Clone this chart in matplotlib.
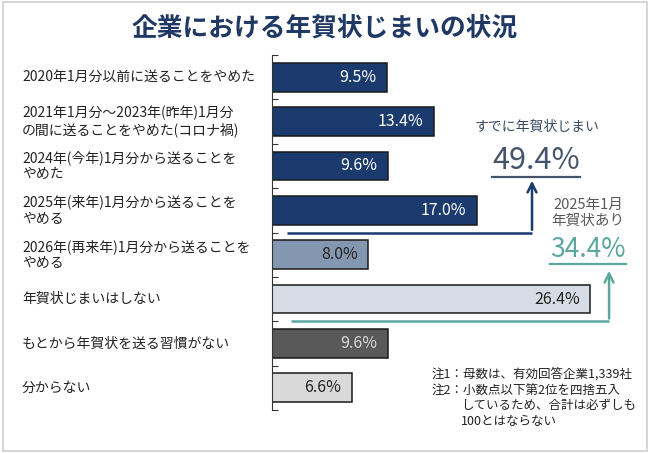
import matplotlib as mpl
mpl.use('Agg')
from matplotlib import pyplot as plt
from matplotlib.patches import Rectangle
from matplotlib.transforms import blended_transform_factory

plt.rcParams['font.family'] = ['Noto Sans CJK JP', 'DejaVu Sans']

# ----- data
categories = [
    "2020年1月分以前に送ることをやめた",
    "2021年1月分～2023年(昨年)1月分\nの間に送ることをやめた(コロナ禍)",
    "2024年(今年)1月分から送ることを\nやめた",
    "2025年(来年)1月分から送ることを\nやめる",
    "2026年(再来年)1月分から送ることを\nやめる",
    "年賀状じまいはしない",
    "もとから年賀状を送る習慣がない",
    "分からない",
]
values = [9.5, 13.4, 9.6, 17.0, 8.0, 26.4, 9.6, 6.6]
bar_colors = ['#1b3a6e', '#1b3a6e', '#1b3a6e', '#1b3a6e',
              '#8497b0', '#d6dce5', '#595959', '#d9d9d9']
text_colors = ['white', 'white', 'white', 'white',
               '#222222', '#222222', '#d9d9d9', '#222222']
already_total = "49.4%"
still_sending = "34.4%"
notes = ["注1：母数は、有効回答企業1,339社",
         "注2：小数点以下第2位を四捨五入",
         "しているため、合計は必ずしも",
         "100とはならない"]

NAVY = '#1b3a6e'
TEAL = '#5ba69e'
SLATE = '#44546a'
PX_PER_PCT = 12.06   # horizontal scale of the reference


def underline(fig, txt, color):
    """Draw a line just below a text object (matplotlib has no underline)."""
    fig.canvas.draw()
    bb = txt.get_window_extent().transformed(fig.transFigure.inverted())
    fig.add_artist(plt.Line2D([bb.x0, bb.x1], [bb.y0 - 0.002, bb.y0 - 0.002],
                              color=color, lw=1.6, transform=fig.transFigure))


fig = plt.figure(figsize=(6.5, 4.53), dpi=100)
fig.add_artist(Rectangle((0.004, 0.005), 0.992, 0.99, transform=fig.transFigure,
                         fill=False, edgecolor='#d0d0d0', lw=1.2))

ax = fig.add_axes([272 / 650, 1 - 410 / 453, (650 - 272) / 650, (410 - 55) / 453])
ax.set_xlim(0, (650 - 272) / PX_PER_PCT)
ax.set_ylim(len(values) - 0.5, -0.5)

ypos = range(len(values))
ax.barh(ypos, values, height=0.65, color=bar_colors, edgecolor='#1a1a1a', lw=1.1)
for y, v, tc in zip(ypos, values, text_colors):
    ax.annotate(f"{v:.1f}%", (v, y), xytext=(-7.5, 0), textcoords='offset points',
                ha='right', va='center', fontsize=11.5, color=tc)

for s in ['top', 'right', 'bottom']:
    ax.spines[s].set_visible(False)
ax.spines['left'].set_color('#333333')
ax.set_xticks([])
ax.set_yticks([i - 0.5 for i in range(len(values) + 1)])
ax.set_yticklabels([])
ax.tick_params(axis='y', direction='in', length=4, color='#333333')

# category labels, x in figure coords, y in data coords
lab_tr = blended_transform_factory(fig.transFigure, ax.transData)
for y, lab in zip(ypos, categories):
    ax.text(22 / 650, y, lab, transform=lab_tr, fontsize=10,
            ha='left', va='center', color='#222222', linespacing=1.2)

# bracket arrows
ax.annotate("", xy=(21.56, 2.27), xytext=(21.56, 3.5),
            arrowprops=dict(arrowstyle='->', color=NAVY, lw=1.8, mutation_scale=16))
ax.plot([1.24, 21.56], [3.5, 3.5], color=NAVY, lw=1.8, solid_capstyle='butt')
ax.annotate("", xy=(27.95, 4.3), xytext=(27.95, 5.5),
            arrowprops=dict(arrowstyle='->', color=TEAL, lw=1.8, mutation_scale=16))
ax.plot([1.57, 27.95], [5.5, 5.5], color=TEAL, lw=1.8, solid_capstyle='butt')

# summary texts
ax.text(22.0, 1.12, "すでに年賀状じまい", ha='center', va='center', fontsize=10,
        color='#3b4a63')
t1 = ax.text(21.9, 1.87, already_total, ha='center', va='center', fontsize=22,
             color=SLATE)
ax.text(26.2, 3.05, "2025年1月\n年賀状あり", ha='center', va='center', fontsize=10.5,
        color='#595959', linespacing=1.15)
t2 = ax.text(26.2, 3.89, still_sending, ha='center', va='center', fontsize=19,
             color=TEAL)

fig.text(325 / 650, 1 - 28 / 453, "企業における年賀状じまいの状況", ha='center', va='center',
         fontsize=18.5, fontweight='bold', color='#1f3864')

note_y = [374, 391, 406, 421]
note_x = [432, 432, 461, 461]
for line, nx, ny in zip(notes, note_x, note_y):
    fig.text(nx / 650, 1 - ny / 453, line, ha='left', va='center',
             fontsize=9, color='#222222')

underline(fig, t1, SLATE)
underline(fig, t2, TEAL)

fig.savefig('out.png', dpi=100)
